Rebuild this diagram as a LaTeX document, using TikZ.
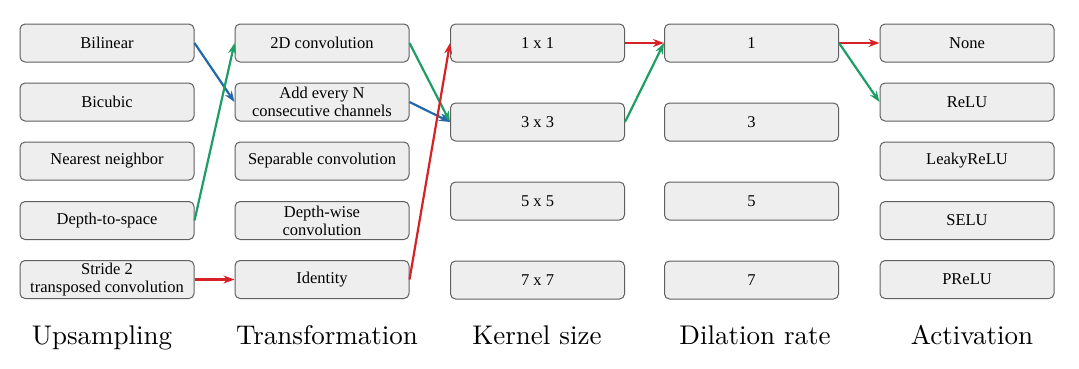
\documentclass[tikz,border=0pt]{standalone}
\usepackage{fontspec}
\newfontfamily\boxfont{Liberation Serif}
\newfontfamily\headfont{lmroman10-regular.otf}
\usetikzlibrary{arrows.meta}
\definecolor{cred}{RGB}{214,34,38}
\definecolor{cgreen}{RGB}{30,158,100}
\definecolor{cblue}{RGB}{36,104,168}
\definecolor{cborder}{RGB}{95,95,95}
\definecolor{cfill}{RGB}{238,238,238}
\tikzset{
  opbox/.style={draw=cborder, fill=cfill, rounded corners=5pt, line width=1pt,
    minimum width=174pt, minimum height=38pt, inner sep=1pt, align=center,
    font=\boxfont\fontsize{16.5}{18}\selectfont},
  colhead/.style={anchor=base, font=\headfont\fontsize{27}{30}\selectfont},
  conn/.style={line width=2.2pt, -{Stealth[length=11pt,width=8pt]}},
}
\begin{document}
\begin{tikzpicture}[x=1pt,y=-1pt]
\useasboundingbox (0,0) rectangle (1079,368);
% column 1: Upsampling
\node[opbox] (bil) at (107,43) {Bilinear};
\node[opbox] (bic) at (107,102) {Bicubic};
\node[opbox] (nn) at (107,161) {Nearest neighbor};
\node[opbox] (d2s) at (107,220.5) {Depth-to-space};
\node[opbox] (st2) at (107,279.5) {Stride 2\\transposed convolution};
% column 2: Transformation
\node[opbox] (c2d) at (322,43) {2D convolution};
\node[opbox] (addn) at (322,102) {Add every N\\consecutive channels};
\node[opbox] (sep) at (322,161) {Separable convolution};
\node[opbox] (dw) at (322,220.5) {Depth-wise\\convolution};
\node[opbox] (idn) at (322,279.5) {Identity};
% column 3: Kernel size
\node[opbox] (k1) at (537.5,43) {1 x 1};
\node[opbox] (k3) at (537.5,122) {3 x 3};
\node[opbox] (k5) at (537.5,201) {5 x 5};
\node[opbox] (k7) at (537.5,280) {7 x 7};
% column 4: Dilation rate
\node[opbox] (r1) at (751.5,43) {1};
\node[opbox] (r3) at (751.5,122) {3};
\node[opbox] (r5) at (751.5,201) {5};
\node[opbox] (r7) at (751.5,280) {7};
% column 5: Activation
\node[opbox] (none) at (967,43) {None};
\node[opbox] (relu) at (967,102) {ReLU};
\node[opbox] (lrelu) at (967,161) {LeakyReLU};
\node[opbox] (selu) at (967,220.5) {SELU};
\node[opbox] (prelu) at (967,279.5) {PReLU};
% headings
\node[colhead] (h1) at (102,344) {Upsampling};
\node[colhead] (h2) at (327,344) {Transformation};
\node[colhead] (h3) at (537,344) {Kernel size};
\node[colhead] (h4) at (755,344) {Dilation rate};
\node[colhead] (h5) at (972,344) {Activation};
% connectors
\draw[conn, cblue] (bil.east) -- (addn.west);
\draw[conn, cgreen] (d2s.east) -- (c2d.west);
\draw[conn, cred] (st2.east) -- (idn.west);
\draw[conn, cgreen] (c2d.east) -- (k3.west);
\draw[conn, cblue] (addn.east) -- (k3.west);
\draw[conn, cred] (idn.east) -- (k1.west);
\draw[conn, cred] (k1.east) -- (r1.west);
\draw[conn, cgreen] (k3.east) -- (r1.west);
\draw[conn, cred] (r1.east) -- (none.west);
\draw[conn, cgreen] (r1.east) -- (relu.west);
\end{tikzpicture}
\end{document}
